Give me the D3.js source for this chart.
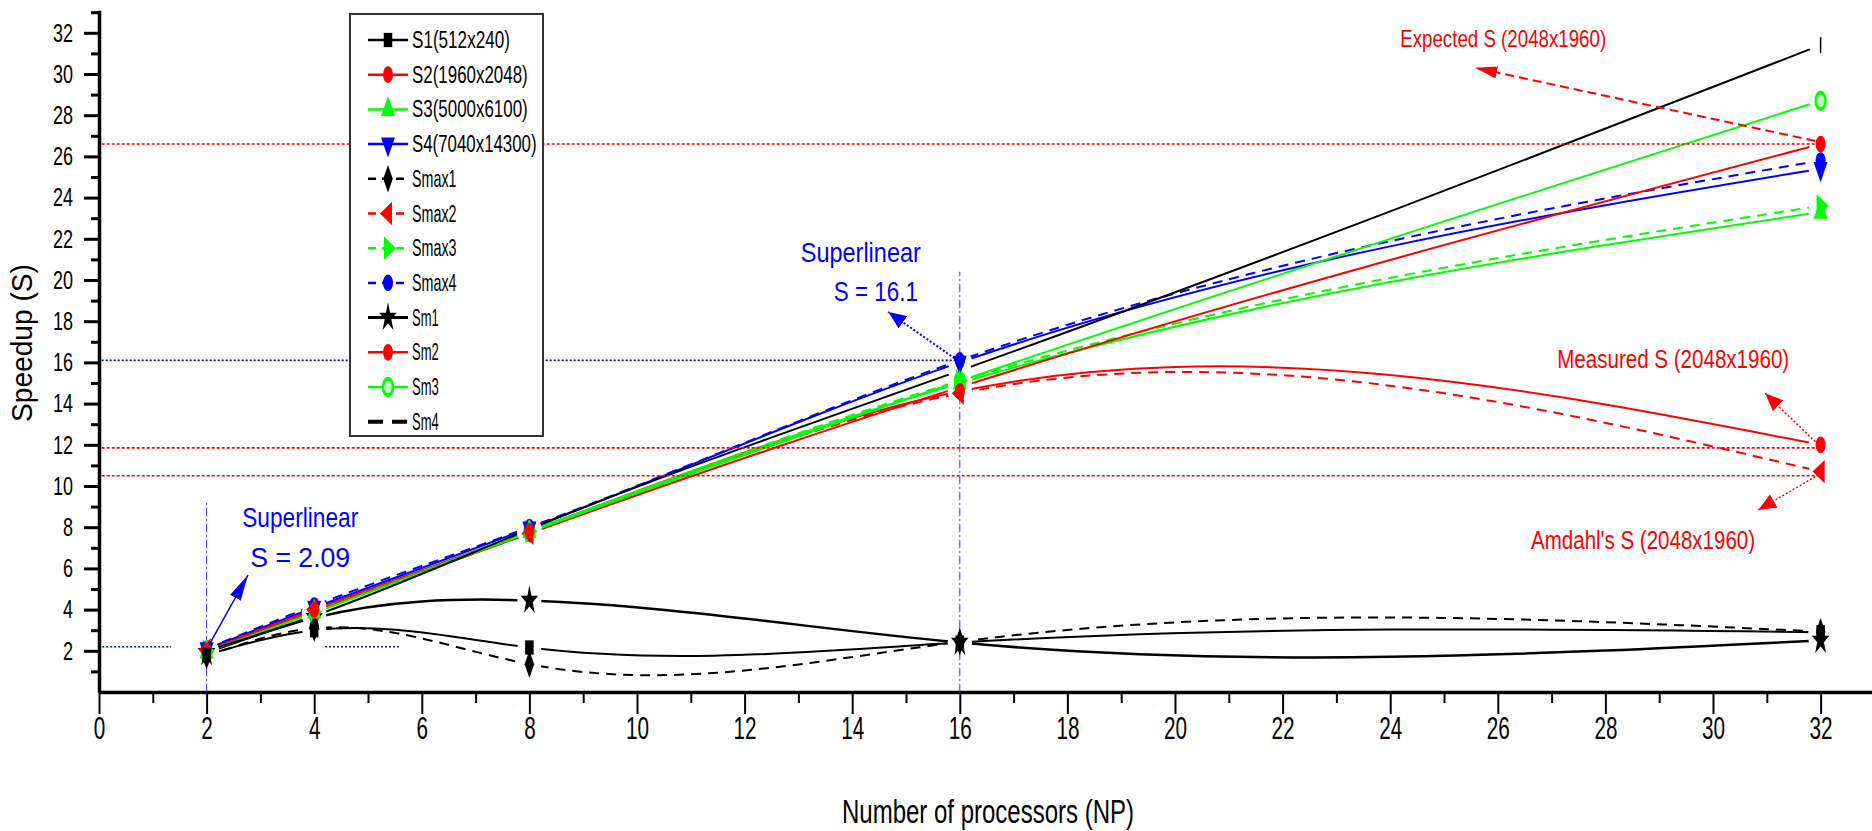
<!DOCTYPE html>
<html>
<head>
<meta charset="utf-8">
<script src="https://cdn.jsdelivr.net/npm/d3@7"></script>
<style>
body{margin:0;background:#fff;}
svg{display:block;font-family:"Liberation Sans",Arial,sans-serif;}
</style>
</head>
<body>
<svg id="chart" width="1872" height="831"></svg>
<script>
// processors
var NP=[2,4,8,16,32];

// speedup
var S1   =[1.80,3.00,2.16,2.40,2.90];
var S2   =[2.00,4.00,7.80,14.6,12.0];
var S3   =[1.95,3.90,7.80,15.0,23.3];
var S4   =[2.09,4.10,7.95,16.0,25.4];
var Smax1=[1.75,3.10,1.35,2.44,2.93];
var Smax2=[2.05,4.00,7.70,14.5,10.7];
var Smax3=[2.00,3.90,7.80,15.1,23.6];
var Smax4=[2.10,4.20,8.00,16.1,25.8];
var Sm1  =[1.90,3.60,4.44,2.40,2.50];
var Sm2  =[2.00,3.90,7.70,14.8,26.6];
var Sm3  =[1.95,3.85,7.75,15.1,28.7];
var Sm4  =[2.00,3.70,7.90,15.6,31.4];

var names=["S1(512x240)","S2(1960x2048)","S3(5000x6100)","S4(7040x14300)",
  "Smax1","Smax2","Smax3","Smax4","Sm1","Sm2","Sm3","Sm4"];
var values=[S1,S2,S3,S4,Smax1,Smax2,Smax3,Smax4,Sm1,Sm2,Sm3,Sm4];

// reference levels
var expectedS=26.6, measuredS=11.85, amdahlS=10.5, superS=16.1, superS2=2.2;

var xTicks=d3.range(0,33,2), xMinor=d3.range(1,34,2);
var yTicks=d3.range(2,33,2), yMinor=d3.range(1,34,2);

// styles (one per series, same order)
var styles=[
 {c:"#000",   w:2, dash:null,   sym:"square"},
 {c:"#ff0000",w:2, dash:null,   sym:"circle"},
 {c:"#00ff00",w:2, dash:null,   sym:"up"},
 {c:"#0000ff",w:2, dash:null,   sym:"down"},
 {c:"#000",   w:2, dash:"10,7", sym:"diamond"},
 {c:"#ff0000",w:2, dash:"10,7", sym:"left"},
 {c:"#00ff00",w:2, dash:"10,7", sym:"right"},
 {c:"#0000ff",w:2, dash:"10,7", sym:"circle"},
 {c:"#000",   w:2.5, dash:null, sym:"star"},
 {c:"#ff0000",w:2, dash:null,   sym:"circle"},
 {c:"#00ff00",w:2, dash:null,   sym:"ring"},
 {c:"#000",   w:2, dash:null,   sym:"bar", legW:4, legDash:"15,9"}
];

var svg=d3.select("#chart");
var x=d3.scaleLinear().domain([0,33.5]).range([99,99+33.5*53.8]);
var y=d3.scaleLinear().domain([0,33.1]).range([692,692-33.1*20.6]);

function cond(sel,w){
  sel.attr("textLength",w).attr("lengthAdjust","spacingAndGlyphs");
}

// cubic spline in x (like Origin's spline connect)
function SplineX(context){this._context=context;}
SplineX.prototype={
  areaStart:function(){},
  areaEnd:function(){},
  lineStart:function(){this._x=[];this._y=[];},
  point:function(px,py){this._x.push(+px);this._y.push(+py);},
  lineEnd:function(){
    var xs=this._x, ys=this._y, n=xs.length, c=this._context, i;
    if(!n) return;
    c.moveTo(xs[0],ys[0]);
    if(n==2){c.lineTo(xs[1],ys[1]);return;}
    var h=[];
    for(i=0;i<n-1;i++) h.push(xs[i+1]-xs[i]);
    var a=[],b=[],cc=[],r=[];
    for(i=1;i<n-1;i++){
      a.push(h[i-1]); b.push(2*(h[i-1]+h[i])); cc.push(h[i]);
      r.push(6*((ys[i+1]-ys[i])/h[i]-(ys[i]-ys[i-1])/h[i-1]));
    }
    var m=n-2;
    for(i=1;i<m;i++){
      var w=a[i]/b[i-1];
      b[i]-=w*cc[i-1];
      r[i]-=w*r[i-1];
    }
    var M=[];
    for(i=0;i<n;i++) M.push(0);
    M[m]=r[m-1]/b[m-1];
    for(i=m-2;i>=0;i--) M[i+1]=(r[i]-cc[i]*M[i+2])/b[i];
    for(i=0;i<n-1;i++){
      var s=(ys[i+1]-ys[i])/h[i];
      var d0=s-h[i]*(2*M[i]+M[i+1])/6;
      var d1=s+h[i]*(M[i]+2*M[i+1])/6;
      c.bezierCurveTo(xs[i]+h[i]/3, ys[i]+d0*h[i]/3,
                      xs[i+1]-h[i]/3, ys[i+1]-d1*h[i]/3, xs[i+1], ys[i+1]);
    }
  }
};
var curveSplineX=function(ctx){return new SplineX(ctx);};

// axes
var gy=svg.append("g").attr("transform","translate("+x(0)+",0)");
gy.call(d3.axisLeft(y).tickValues(yTicks).tickSize(15).tickSizeOuter(0).tickPadding(11));
gy.append("g").call(d3.axisLeft(y).tickValues(yMinor).tickSize(8).tickSizeOuter(0).tickFormat(""))
  .select(".domain").remove();
gy.attr("font-size",null).attr("font-family",null);
gy.selectAll(".domain").attr("stroke-width",3.5);
gy.selectAll(".tick line").attr("stroke-width",3);
gy.selectAll(".tick text").attr("font-size",26).attr("fill","#000")
  .each(function(d){cond(d3.select(this),String(d).length*10);});

var gx=svg.append("g").attr("transform","translate(0,"+y(0)+")");
gx.call(d3.axisBottom(x).tickValues(xTicks).tickSize(22).tickSizeOuter(0).tickPadding(3));
gx.append("g").call(d3.axisBottom(x).tickValues(xMinor).tickSize(11).tickSizeOuter(0).tickFormat(""))
  .select(".domain").remove();
gx.attr("font-size",null).attr("font-family",null);
gx.selectAll(".domain").attr("stroke-width",3.5);
gx.selectAll(".tick line").attr("stroke-width",2);
gx.selectAll(".tick text").attr("font-size",31).attr("fill","#000")
  .each(function(d){cond(d3.select(this),String(d).length*11.5);});

svg.append("text").attr("x",988).attr("y",823).attr("text-anchor","middle")
  .attr("font-size",34).text("Number of processors (NP)").call(cond,292);
svg.append("text").attr("transform","translate(32,343) rotate(-90)").attr("text-anchor","middle")
  .attr("font-size",30).text("Speedup (S)").call(cond,158);

// series
var series=values.map(function(v,i){
  return {name:names[i],st:styles[i],pts:NP.map(function(n,j){return [n,v[j]];})};
});

var line=d3.line().x(function(d){return x(d[0]);}).y(function(d){return y(d[1]);})
  .curve(curveSplineX);

var gl=svg.append("g");
series.forEach(function(s){
  gl.append("path").attr("d",line(s.pts)).attr("fill","none")
    .attr("stroke",s.st.c).attr("stroke-width",s.st.w)
    .attr("stroke-dasharray",s.st.dash);
});

// gaps around symbols
var gh=svg.append("g");
series.forEach(function(s){
  gh.selectAll(null).data(s.pts).enter().append("ellipse")
    .attr("cx",function(d){return x(d[0]);}).attr("cy",function(d){return y(d[1]);})
    .attr("rx",12).attr("ry",9).attr("fill","#fff");
});

// reference lines
var gr=svg.append("g").attr("fill","none");
[expectedS,measuredS,amdahlS].forEach(function(v){
  gr.append("line").attr("x1",x(0.05)).attr("x2",x(31.95)).attr("y1",y(v)).attr("y2",y(v))
    .attr("stroke","#ff0000").attr("stroke-width",1.6).attr("stroke-dasharray","3,2");
});
gr.append("line").attr("x1",x(0.05)).attr("x2",x(16)).attr("y1",y(superS)).attr("y2",y(superS))
  .attr("stroke","#0000ff").attr("stroke-width",1.6).attr("stroke-dasharray","2,2");
[[0.06,1.34],[4.2,5.6]].forEach(function(r){
  gr.append("line").attr("x1",x(r[0])).attr("x2",x(r[1])).attr("y1",y(superS2)).attr("y2",y(superS2))
    .attr("stroke","#0000ff").attr("stroke-width",1.6).attr("stroke-dasharray","2,2");
});
[[2,9.3],[16,20.4]].forEach(function(r){
  gr.append("line").attr("x1",x(r[0])).attr("x2",x(r[0])).attr("y1",y(0)).attr("y2",y(r[1]))
    .attr("stroke","#3333ff").attr("stroke-width",1).attr("stroke-dasharray","8,3,2,3");
});

// symbols
function symPath(t){
  if(t=="star") return d3.symbol().size(170).type(d3.symbolStar)();
  if(t=="square") return d3.symbol().size(130).type(d3.symbolSquare)();
  if(t=="diamond") return d3.symbol().size(140).type(d3.symbolDiamond)();
  if(t=="circle"||t=="ring") return d3.symbol().size(140).type(d3.symbolCircle)();
  return d3.symbol().size(150).type(d3.symbolTriangle)();
}
var rot={up:0,down:180,left:-90,right:90};
function drawSym(g,st,cx,cy){
  if(st.sym=="bar"){
    g.append("line").attr("x1",cx).attr("x2",cx).attr("y1",cy-8).attr("y2",cy+8)
      .attr("stroke",st.c).attr("stroke-width",1.5);
    return;
  }
  var p=g.append("path").attr("d",symPath(st.sym))
    .attr("transform","translate("+cx+","+cy+") scale(0.75,1.25) rotate("+(rot[st.sym]||0)+")")
    .attr("fill",st.sym=="ring"?"#bfffbf":st.c);
  if(st.sym=="ring") p.attr("stroke",st.c).attr("stroke-width",3);
}
var gm=svg.append("g");
series.slice().reverse().forEach(function(s){
  s.pts.forEach(function(d){drawSym(gm,s.st,x(d[0]),y(d[1]));});
});

// annotations
var defs=svg.append("defs");
function head(id,color,len,wid){
  defs.append("marker").attr("id",id).attr("markerUnits","userSpaceOnUse")
    .attr("markerWidth",len).attr("markerHeight",wid).attr("refX",len).attr("refY",wid/2)
    .attr("orient","auto")
    .append("path").attr("d","M0,0L"+len+","+(wid/2)+"L0,"+wid+"Z").attr("fill",color);
}
head("hb1","#0000ff",26,12);
head("hb2","#0000ff",18,15);
head("hr1","#ff0000",22,12);
head("hr2","#ff0000",18,15);

var arrows=[
 {from:[2.05,2.3],to:[2.77,5.68],c:"#0000ff",w:1.5,dash:null,h:"hb1"},
 {from:[15.9,16.2],to:[14.67,18.45],c:"#0000ff",w:2,dash:"2,2",h:"hb2"},
 {from:[31.9,26.75],to:[25.58,30.3],c:"#ff0000",w:2,dash:"9,5",h:"hr1"},
 {from:[31.9,12.15],to:[30.97,14.5],c:"#ff0000",w:1.5,dash:"2,2",h:"hr2"},
 {from:[31.9,10.45],to:[30.84,8.83],c:"#ff0000",w:1.5,dash:"2,2",h:"hr2"}
];
var ga=svg.append("g");
arrows.forEach(function(a){
  ga.append("line").attr("x1",x(a.from[0])).attr("y1",y(a.from[1]))
    .attr("x2",x(a.to[0])).attr("y2",y(a.to[1]))
    .attr("stroke",a.c).attr("stroke-width",a.w).attr("stroke-dasharray",a.dash)
    .attr("marker-end","url(#"+a.h+")");
});

var notes=[
 {t:"Superlinear",x:3.74,y:8.0,c:"#0000ff",fs:28,w:116},
 {t:"S = 2.09",x:3.74,y:6.07,c:"#0000ff",fs:28,w:100},
 {t:"Superlinear",x:14.16,y:20.85,c:"#0000ff",fs:28,w:120},
 {t:"S = 16.1",x:14.44,y:19.0,c:"#0000ff",fs:28,w:84},
 {t:"Expected S (2048x1960)",x:26.1,y:31.3,c:"#ff0000",fs:24,w:206},
 {t:"Measured S (2048x1960)",x:29.26,y:15.75,c:"#ff0000",fs:26,w:232},
 {t:"Amdahl's S (2048x1960)",x:28.7,y:6.93,c:"#ff0000",fs:26,w:224}
];
notes.forEach(function(n){
  svg.append("text").attr("x",x(n.x)).attr("y",y(n.y)).attr("text-anchor","middle")
    .attr("font-size",n.fs).attr("fill",n.c).text(n.t).call(cond,n.w);
});

// legend
var lg=svg.append("g").attr("transform","translate(350,14)");
lg.append("rect").attr("width",193).attr("height",422).attr("fill","#fff")
  .attr("stroke","#333").attr("stroke-width",2);
series.forEach(function(s,i){
  var yy=26+i*34.7;
  lg.append("line").attr("x1",18).attr("x2",58).attr("y1",yy).attr("y2",yy)
    .attr("stroke",s.st.c).attr("stroke-width",s.st.legW||s.st.w+0.5)
    .attr("stroke-dasharray",s.st.legDash||(s.st.dash?"8,6":null));
  if(s.st.sym!="bar") drawSym(lg,s.st,38,yy);
  lg.append("text").attr("x",62).attr("y",yy+8).attr("font-size",23).attr("fill","#000")
    .text(s.name).call(cond,s.name.length*8.9);
});
</script>
</body>
</html>
